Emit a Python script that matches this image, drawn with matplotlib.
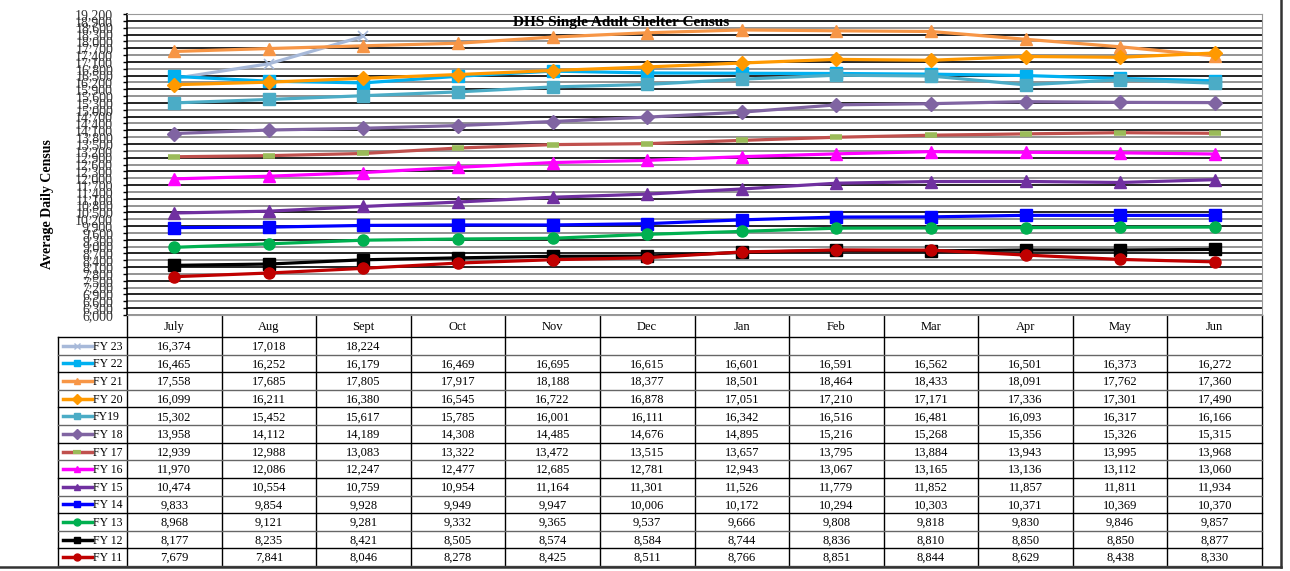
import matplotlib
matplotlib.use("Agg")
import matplotlib.pyplot as plt
import numpy as np

plt.rcParams['font.family'] = ['Liberation Serif', 'DejaVu Serif']

# data
months = ['July', 'Aug', 'Sept', 'Oct', 'Nov', 'Dec', 'Jan', 'Feb', 'Mar', 'Apr', 'May', 'Jun']
series_names = ['FY 23', 'FY 22', 'FY 21', 'FY 20', 'FY19', 'FY 18', 'FY 17',
                'FY 16', 'FY 15', 'FY 14', 'FY 13', 'FY 12', 'FY 11']
fy23 = [16374, 17018, 18224]
fy22 = [16465, 16252, 16179, 16469, 16695, 16615, 16601, 16591, 16562, 16501, 16373, 16272]
fy21 = [17558, 17685, 17805, 17917, 18188, 18377, 18501, 18464, 18433, 18091, 17762, 17360]
fy20 = [16099, 16211, 16380, 16545, 16722, 16878, 17051, 17210, 17171, 17336, 17301, 17490]
fy19 = [15302, 15452, 15617, 15785, 16001, 16111, 16342, 16516, 16481, 16093, 16317, 16166]
fy18 = [13958, 14112, 14189, 14308, 14485, 14676, 14895, 15216, 15268, 15356, 15326, 15315]
fy17 = [12939, 12988, 13083, 13322, 13472, 13515, 13657, 13795, 13884, 13943, 13995, 13968]
fy16 = [11970, 12086, 12247, 12477, 12685, 12781, 12943, 13067, 13165, 13136, 13112, 13060]
fy15 = [10474, 10554, 10759, 10954, 11164, 11301, 11526, 11779, 11852, 11857, 11811, 11934]
fy14 = [9833, 9854, 9928, 9949, 9947, 10006, 10172, 10294, 10303, 10371, 10369, 10370]
fy13 = [8968, 9121, 9281, 9332, 9365, 9537, 9666, 9808, 9818, 9830, 9846, 9857]
fy12 = [8177, 8235, 8421, 8505, 8574, 8584, 8744, 8836, 8810, 8850, 8850, 8877]
fy11 = [7679, 7841, 8046, 8278, 8425, 8511, 8766, 8851, 8844, 8629, 8438, 8330]
series = [fy23, fy22, fy21, fy20, fy19, fy18, fy17, fy16, fy15, fy14, fy13, fy12, fy11]

# style per series: line colour, marker, marker colour
styles = [
    ('#A7B9D9', 'x', '#A7B9D9'),
    ('#00B0F0', 's', '#00B0F0'),
    ('#F79646', '^', '#F79646'),
    ('#FF9900', 'D', '#FF9900'),
    ('#4BACC6', 's', '#4BACC6'),
    ('#8064A2', 'D', '#8064A2'),
    ('#C0504D', '_', '#9BBB59'),
    ('#FF00FF', '^', '#FF00FF'),
    ('#7030A0', '^', '#7030A0'),
    ('#0000FF', 's', '#0000FF'),
    ('#00B050', 'o', '#00B050'),
    ('#000000', 's', '#000000'),
    ('#C00000', 'o', '#C00000'),
]
marker_sizes = {'x': 7, 's': 8, '^': 8, 'D': 7, 'o': 8, '_': 9}

W, H = 1290, 571
fig = plt.figure(figsize=(W / 100, H / 100), dpi=100)

# plot area in pixels
px0, px1, py0, py1 = 127, 1262, 14, 315
ax = fig.add_axes([px0 / W, 1 - py1 / H, (px1 - px0) / W, (py1 - py0) / H])
ax.set_xlim(-0.5, len(months) - 0.5)
ax.set_ylim(6000, 19200)
yt = np.arange(6000, 19201, 300)
for i, v in enumerate(yt):
    ax.axhline(v, color='black' if i % 2 else '#808080', lw=1.2, zorder=1)
ax.set_yticks(yt)
ax.set_yticklabels([f'{v:,}' for v in yt], fontsize=10, color='#333333')
ax.tick_params(axis='y', length=3, width=1, pad=7)
ax.set_xticks([])
for s in ['top', 'right', 'bottom']:
    ax.spines[s].set_color('#999999')
ax.spines['left'].set_color('black')
ax.spines['left'].set_linewidth(1.2)

x = np.arange(len(months))
for vals, (lc, mk, mc) in zip(series, styles):
    n = len(vals)
    mew = 1
    if mk == 'x':
        mew = 1.2
    if mk == '_':
        mew = 4
    ax.plot(x[:n], vals, color=lc, lw=2.3, marker=mk, markersize=marker_sizes[mk],
            markerfacecolor=mc, markeredgecolor=mc, markeredgewidth=mew, zorder=3)

ax.text(0.435, 0.972, 'DHS Single Adult Shelter Census', transform=ax.transAxes,
        ha='center', va='center', fontsize=11, fontweight='bold', zorder=5)
fig.text(48 / W, 1 - 204 / H, 'Average Daily Census', rotation=90, ha='center',
         va='center', fontsize=10, fontweight='bold')

# data table below the plot, in pixel coordinates
tax = fig.add_axes([0, 0, 1, 1], zorder=-1)
tax.set_xlim(0, W)
tax.set_ylim(H, 0)
tax.axis('off')
colw = (px1 - px0) / len(months)
leg_x0 = 58
head_y0, head_y1 = py1, 337
row_h = (566 - head_y1) / len(series)
tab_bottom = head_y1 + row_h * len(series)

for j, m in enumerate(months):
    tax.text(px0 + (j + 0.5) * colw, (head_y0 + head_y1) / 2 + 1, m, ha='center',
             va='center', fontsize=9)
for j in range(len(months) + 1):
    tax.plot([px0 + j * colw] * 2, [head_y0, tab_bottom], color='black', lw=1)
tax.plot([leg_x0, leg_x0], [head_y1, tab_bottom], color='black', lw=1)
tax.plot([leg_x0, px1], [head_y1, head_y1], color='black', lw=1)
for i, (name, vals, (lc, mk, mc)) in enumerate(zip(series_names, series, styles)):
    yc = head_y1 + (i + 0.5) * row_h
    yb = head_y1 + (i + 1) * row_h
    tax.plot([leg_x0, px1], [yb, yb], color='black' if i % 2 else '#666666', lw=1)
    ms = 5 if mk != '_' else 6
    tax.plot([63, 92], [yc, yc], color=lc, lw=2.5)
    tax.plot([77], [yc], marker=mk, color=mc, markersize=ms,
             markeredgewidth=3 if mk == '_' else 1)
    tax.text(93, yc + 1, name, ha='left', va='center', fontsize=8.5)
    for j, v in enumerate(vals):
        tax.text(px0 + (j + 0.5) * colw, yc + 1, f'{v:,}', ha='center',
                 va='center', fontsize=9)

# outer frame
tax.plot([1281, 1281], [0, 567], color='#333333', lw=1.8)
tax.plot([0, 1281], [567, 567], color='#333333', lw=1.8)

fig.savefig('out.png', dpi=100)
